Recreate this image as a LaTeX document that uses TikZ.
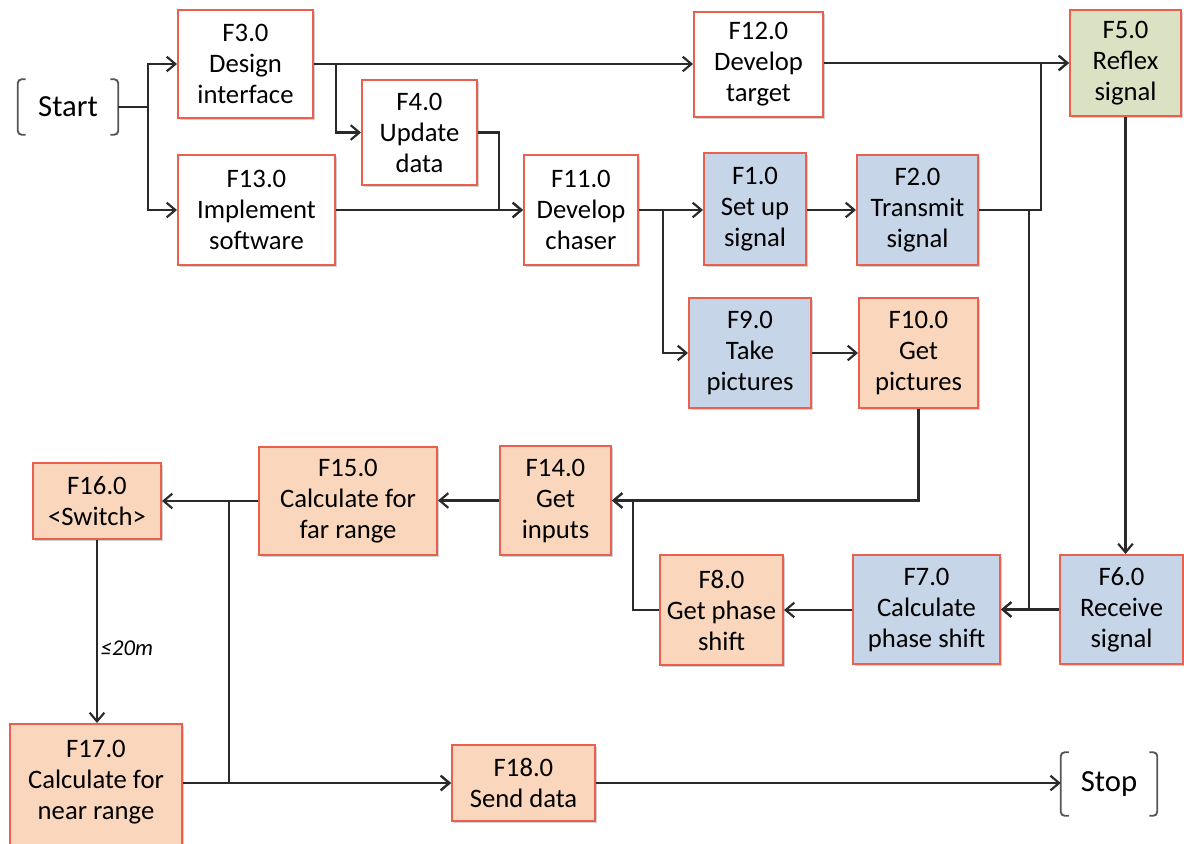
\documentclass[tikz,border=0pt]{standalone}
\usepackage{fontspec}
\setmainfont{Carlito}
\usetikzlibrary{arrows.meta,calc,shadows}
\definecolor{edgered}{HTML}{E9614E}
\definecolor{peach}{HTML}{FAD7BC}
\definecolor{paleblue}{HTML}{C6D5E8}
\definecolor{palegreen}{HTML}{DBE2C3}
\definecolor{wire}{HTML}{2A2A2A}
\tikzset{
  boxfont/.style={font=\fontsize{20}{23.25}\selectfont},
  box/.style={draw=edgered, line width=1.5pt, align=center, inner sep=0pt, boxfont,
    drop shadow={shadow xshift=1.2pt, shadow yshift=-1.2pt, opacity=0.18, fill=black}},
  plain/.style={box, fill=white},
  peachbox/.style={box, fill=peach},
  bluebox/.style={box, fill=paleblue},
  greenbox/.style={box, fill=palegreen},
  term/.style={inner sep=0pt, font=\fontsize{23}{26}\selectfont},
  bracket/.style={draw=wire!80, line width=1.4pt, rounded corners=3pt},
  wireline/.style={draw=wire, line width=1.6pt},
  flow/.style={wireline, -{Straight Barb[length=6.5pt, width=11pt, line width=1.6pt]}},
}
\begin{document}
\begin{tikzpicture}[x=0.75pt, y=-0.75pt]
\useasboundingbox (0,0) rectangle (1184,843);

% terminators
\node[term, minimum width=75pt, minimum height=41.25pt] (start) at (68,107) {Start};
\node[term, minimum width=72pt, minimum height=47.25pt] (stop) at (1109,784) {Stop};
\foreach \t in {start, stop} {
  \draw[bracket] ($(\t.north west)+(8,0)$) -- (\t.north west) -- (\t.south west) -- ($(\t.south west)+(8,0)$);
  \draw[bracket] ($(\t.north east)+(-8,0)$) -- (\t.north east) -- (\t.south east) -- ($(\t.south east)+(-8,0)$);
}

% development row
\node[plain, minimum width=101.25pt, minimum height=81pt]    (f3)  at (245.5,64)   {F3.0\\Design\\interface};
\node[plain, minimum width=117.75pt, minimum height=82.5pt]  (f13) at (256.5,210)  {F13.0\\Implement\\software};
\node[plain, minimum width=86.25pt,  minimum height=78.75pt] (f4)  at (419.5,132.5) {F4.0\\Update\\data};
\node[plain, minimum width=96.75pt,  minimum height=78.75pt] (f12) at (758.5,64.5) {F12.0\\Develop\\target};
\node[plain, minimum width=85.5pt,   minimum height=82.5pt]  (f11) at (581,210)    {F11.0\\Develop\\chaser};

% signal path
\node[bluebox,  minimum width=76.5pt,  minimum height=84pt]    (f1)  at (755,209)    {F1.0\\Set up\\signal};
\node[bluebox,  minimum width=90.75pt, minimum height=82.5pt]  (f2)  at (917.5,210)  {F2.0\\Transmit\\signal};
\node[greenbox, minimum width=83.25pt, minimum height=79.5pt]  (f5)  at (1125.5,63)  {F5.0\\Reflex\\signal};
\node[bluebox,  minimum width=91.5pt,  minimum height=82.5pt]  (f9)  at (750,353)    {F9.0\\Take\\pictures};
\node[peachbox, minimum width=89.25pt, minimum height=82.5pt]  (f10) at (918.5,353)  {F10.0\\Get\\pictures};
\node[bluebox,  minimum width=92.25pt, minimum height=81.75pt] (f6)  at (1121.5,609.5) {F6.0\\Receive\\signal};
\node[bluebox,  minimum width=110.25pt,minimum height=81.75pt] (f7)  at (926.5,609.5) {F7.0\\Calculate\\phase shift};
\node[peachbox, minimum width=92.25pt, minimum height=82.5pt]  (f8)  at (721.5,610)  {F8.0\\Get phase\\shift};

% range calculation
\node[peachbox, minimum width=83.25pt, minimum height=81.75pt] (f14) at (555.5,500.5) {F14.0\\Get\\inputs};
\node[peachbox, minimum width=133.5pt, minimum height=81pt]    (f15) at (348,501)    {F15.0\\Calculate for\\far range};
\node[peachbox, minimum width=96pt,    minimum height=57pt]    (f16) at (97,501)     {F16.0\\{<}Switch{>}};
\node[peachbox, minimum width=129pt,   minimum height=97.5pt]  (f17) at (96,789)     {};
\node[align=center, inner sep=0pt, boxfont] (f17text) at (96,782) {F17.0\\Calculate for\\near range};
\node[peachbox, minimum width=107.25pt, minimum height=57pt]   (f18) at (523.5,783)  {F18.0\\Send data};

% connectors
\coordinate (js) at ($(start.east)+(30,0)$);
\draw[wireline] (start.east) -- (js);
\draw[flow] (js) |- (f3.west);
\draw[flow] (js) |- (f13.west);

\draw[flow] (f3.east) -- (f3.east -| f12.west);
\draw[flow] ($(f3.east)+(22,0)$) |- (f4.west);
\draw[flow] (f4.east) -| ($(f11.west)+(-24,0)$) -- (f11.west);
\draw[flow] (f13.east) -- (f13.east -| f11.west);
\draw[flow] (f12.east |- f5.west) -- (f5.west);

\draw[flow] (f11.east) -- (f11.east -| f1.west);
\draw[flow] ($(f11.east)+(24,0)$) |- (f9.west);
\draw[flow] (f1.east |- f2.west) -- (f2.west);
\draw[flow] (f2.east) -| ($(f5.west)+(-28,0)$) -- (f5.west);
\draw[flow] ($(f2.east)+(50,0)$) |- (f7.east);
\draw[flow] (f5.south) -- (f5.south |- f6.north);
\draw[flow] (f9.east) -- (f9.east -| f10.west);

\draw[flow] (f6.west) -- (f7.east);
\draw[flow] (f7.west |- f8.east) -- (f8.east);
\draw[flow] (f10.south) |- (f14.east);
\draw[flow] (f8.west) -| ($(f14.east)+(21,0)$) -- (f14.east);
\draw[flow] (f14.west) -- (f14.west -| f15.east);
\draw[flow] (f15.west) -- (f15.west -| f16.east);
\draw[flow] ($(f15.west)+(-29,0)$) |- (f18.west);
\draw[flow] (f16.south) -- (f16.south |- f17.north)
  node[pos=0.59, right, inner sep=2pt, font=\fontsize{17}{20}\selectfont\itshape] (lim) {≤20m};
\draw[flow] (f17.east |- f18.west) -- (f18.west);
\draw[flow] (f18.east) -- (f18.east -| stop.west);
\end{tikzpicture}
\end{document}
